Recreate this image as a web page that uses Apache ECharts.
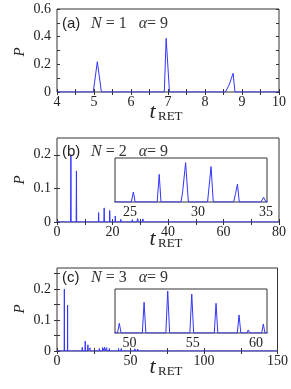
<!DOCTYPE html>
<html><head><meta charset="utf-8">
<script src="https://cdn.jsdelivr.net/npm/echarts@6/dist/echarts.min.js"></script>
<style>html,body{margin:0;padding:0;background:#fff}#c{width:291px;height:389px}</style>
</head><body><div id="c"></div>
<script>
// ---- Panel (a): N = 1 ----
const tA = [4, 4.98, 5.09, 5.2, 6.9, 6.95, 7.04, 8.55, 8.65, 8.76, 8.81, 10];
const pA = [0, 0, 0.219, 0, 0, 0.388, 0, 0, 0.05, 0.135, 0, 0];

// ---- Panel (b): N = 2 ----
const tB = [0, 4.9, 5.0, 5.1, 6.9, 7.0, 7.1, 14.9, 15.0, 15.1, 16.9, 17.0, 17.1, 18.9, 19.0, 19.1,
  20.9, 21.0, 21.1, 22.9, 23.0, 23.1, 25.1, 25.25, 25.38, 27.0, 27.15, 27.28,
  28.75, 28.87, 29.09, 29.29, 30.7, 30.96, 31.12, 32.62, 32.76, 32.9, 33.03, 34.62, 34.82, 35.0,
  36.9, 37.0, 37.1, 38.9, 39.0, 39.1, 40.9, 41.0, 41.1, 42.9, 43.0, 43.1, 44.9, 45.0, 45.1,
  48.9, 49.0, 49.1, 50.9, 51.0, 51.1, 54.9, 55.0, 55.1, 60.9, 61.0, 61.1, 80];
const pB = [0, 0, 0.2, 0, 0, 0.152, 0, 0, 0.028, 0, 0, 0.042, 0, 0, 0.034, 0,
  0, 0.018, 0, 0, 0.008, 0, 0, 0.00257, 0, 0, 0.0071, 0,
  0, 0.0026, 0.0101, 0, 0, 0.0091, 0, 0, 0.0022, 0.0046, 0, 0, 0.0012, 0,
  0, 0.004, 0, 0, 0.003, 0, 0, 0.005, 0, 0, 0.003, 0, 0, 0.002, 0,
  0, 0.0015, 0, 0, 0.002, 0, 0, 0.0015, 0, 0, 0.001, 0, 0];

// ---- Panel (c): N = 3 ----
const tC = [0, 4.9, 5.0, 5.1, 7.1, 7.2, 7.3, 17.1, 17.2, 17.3, 19.1, 19.2, 19.3, 20.9, 21.0, 21.1,
  22.4, 22.5, 22.6, 24.2, 24.3, 24.4, 26.5, 26.6, 26.7, 28.7, 28.8, 28.9, 30.9, 31.0, 31.1,
  32.3, 32.4, 32.5, 33.7, 33.8, 33.9, 35.5, 35.6, 35.7, 37.4, 37.5, 37.6, 39.9, 40.0, 40.1,
  41.8, 41.9, 42.0, 43.6, 43.7, 43.8, 45.4, 45.5, 45.6, 47.3, 47.4, 47.5,
  49.05, 49.19, 49.33, 50.26, 50.38, 50.5, 51.01, 51.15, 51.29, 52.87, 53.02, 53.17,
  54.77, 54.92, 55.07, 56.7, 56.84, 56.98, 58.52, 58.66, 58.8, 59.28, 59.39, 59.5, 60.45, 60.58, 60.71,
  62.4, 62.5, 62.6, 64.3, 64.4, 64.5, 66.2, 66.3, 66.4, 68.1, 68.2, 68.3, 71.9, 72.0, 72.1,
  75.9, 76.0, 76.1, 79.9, 80.0, 80.1, 87.9, 88.0, 88.1, 94.9, 95.0, 95.1, 104.9, 105.0, 105.1, 150];
const pC = [0, 0, 0.2, 0, 0, 0.148, 0, 0, 0.012, 0, 0, 0.032, 0, 0, 0.02, 0,
  0, 0.01, 0, 0, 0.006, 0, 0, 0.005, 0, 0, 0.008, 0, 0, 0.011, 0,
  0, 0.012, 0, 0, 0.011, 0, 0, 0.008, 0, 0, 0.005, 0, 0, 0.006, 0,
  0, 0.008, 0, 0, 0.008, 0, 0, 0.006, 0, 0, 0.004, 0,
  0, 0.00161, 0, 0, 0.00033, 0, 0, 0.0051, 0, 0, 0.00697, 0,
  0, 0.00647, 0, 0, 0.00493, 0, 0, 0.00299, 0, 0, 0.0005, 0, 0, 0.00149, 0,
  0, 0.003, 0, 0, 0.002, 0, 0, 0.002, 0, 0, 0.0015, 0, 0, 0.001, 0,
  0, 0.001, 0, 0, 0.001, 0, 0, 0.0008, 0, 0, 0.0006, 0, 0, 0.0005, 0, 0];

// ---- Tick values / labels ----
const xTicksA = [4, 4.5, 5, 5.5, 6, 6.5, 7, 7.5, 8, 8.5, 9, 9.5, 10];
const xLabelsA = [4, 5, 6, 7, 8, 9, 10];
const yTicksA = [0, 0.1, 0.2, 0.3, 0.4, 0.5, 0.6];
const yLabelsA = [0, 0.2, 0.4, 0.6];
const xTicksB = [0, 10, 20, 30, 40, 50, 60, 70, 80];
const xLabelsB = [0, 20, 40, 60, 80];
const yTicksB = [0, 0.1, 0.2];
const yLabelsB = [0, 0.1, 0.2];
const xTicksC = [0, 25, 50, 75, 100, 125, 150];
const xLabelsC = [0, 50, 100, 150];
const yTicksC = [0, 0.05, 0.1, 0.15, 0.2, 0.25];
const yLabelsC = [0, 0.1, 0.2];
const xTicksInB = [25, 27.5, 30, 32.5, 35];
const xLabelsInB = [25, 30, 35];
const xTicksInC = [50, 52.5, 55, 57.5, 60];
const xLabelsInC = [50, 55, 60];

const pair = (t, p) => t.map((v, i) => [v, p[i]]);
const FONT = '"Liberation Serif", "Times New Roman", serif';
const FRAME = '#333';
const BLUE = '#3434ff';

const labelStyle = (show, vals, margin) => show ? {
  show: true, customValues: vals, margin, fontFamily: FONT, fontSize: 14, color: '#222', fontWeight: 'normal'
} : { show: false };

function xAx(g, min, max, ticks, labels, pos) {
  return {
    type: 'value', gridIndex: g, min, max, position: pos,
    axisLine: { show: false }, splitLine: { show: false },
    axisTick: { show: true, inside: true, length: 3, customValues: ticks, lineStyle: { color: FRAME } },
    axisLabel: labelStyle(!!labels, labels, 3)
  };
}
function yAx(g, min, max, ticks, labels, pos) {
  return {
    type: 'value', gridIndex: g, min, max, position: pos,
    axisLine: { show: false }, splitLine: { show: false },
    axisTick: { show: !!ticks, inside: true, length: 3, customValues: ticks || [], lineStyle: { color: FRAME } },
    axisLabel: labelStyle(!!labels, labels, 6)
  };
}
function line(xi, yi, data, z) {
  return { type: 'line', xAxisIndex: xi, yAxisIndex: yi, data, showSymbol: false, symbol: 'none',
    lineStyle: { color: BLUE, width: 1 }, clip: true, z: z || 2, animation: false };
}

const gridBase = { show: true, borderColor: FRAME, borderWidth: 1, containLabel: false };
const option = {
  animation: false,
  textStyle: { fontFamily: FONT },
  grid: [
    Object.assign({ left: 57, top: 9, width: 222, height: 83, backgroundColor: 'transparent' }, gridBase),
    Object.assign({ left: 57, top: 138, width: 222, height: 84, backgroundColor: 'transparent' }, gridBase),
    Object.assign({ left: 57, top: 268, width: 222, height: 83, backgroundColor: 'transparent' }, gridBase),
    Object.assign({ left: 115, top: 158, width: 152, height: 44, backgroundColor: '#fff', z: 3 }, gridBase),
    Object.assign({ left: 115, top: 289, width: 152, height: 44, backgroundColor: '#fff', z: 3 }, gridBase)
  ],
  xAxis: [
    xAx(0, 4, 10, xTicksA, xLabelsA, 'bottom'),
    xAx(0, 4, 10, xTicksA, null, 'top'),
    xAx(1, 0, 80, xTicksB, xLabelsB, 'bottom'),
    xAx(1, 0, 80, xTicksB, null, 'top'),
    xAx(2, 0, 150, xTicksC, xLabelsC, 'bottom'),
    xAx(2, 0, 150, xTicksC, null, 'top'),
    xAx(3, 23.9, 35.07, xTicksInB, xLabelsInB, 'bottom'),
    xAx(3, 23.9, 35.07, xTicksInB, null, 'top'),
    xAx(4, 48.85, 60.87, xTicksInC, xLabelsInC, 'bottom'),
    xAx(4, 48.85, 60.87, xTicksInC, null, 'top')
  ],
  yAxis: [
    yAx(0, 0, 0.6, yTicksA, yLabelsA, 'left'),
    yAx(0, 0, 0.6, yTicksA, null, 'right'),
    yAx(1, 0, 0.25, yTicksB, yLabelsB, 'left'),
    yAx(1, 0, 0.25, yTicksB, null, 'right'),
    yAx(2, 0, 0.268, yTicksC, yLabelsC, 'left'),
    yAx(2, 0, 0.268, yTicksC, null, 'right'),
    yAx(3, 0, 0.0113, null, null, 'left'),
    yAx(4, 0, 0.0073, null, null, 'left')
  ],
  series: [
    line(0, 0, pair(tA, pA)),
    line(2, 2, pair(tB, pB)),
    line(4, 4, pair(tC, pC)),
    line(6, 6, pair(tB, pB), 4),
    line(8, 7, pair(tC, pC), 4)
  ],
  graphic: []
};

// panel annotations
const panels = [
  { lab: '(a)', n: '1', cy: 24, ty: 112, py: 52 },
  { lab: '(b)', n: '2', cy: 152, ty: 239, py: 180 },
  { lab: '(c)', n: '3', cy: 278, ty: 367, py: 309 }
];
panels.forEach(p => {
  option.graphic.push(
    { type: 'text', x: 62, y: p.cy, z: 10, style: { text: p.lab, font: '15px "Liberation Sans", Arial, sans-serif', fill: '#222', textAlign: 'left', textVerticalAlign: 'middle' } },
    { type: 'text', x: 91, y: p.cy, z: 10, style: { text: '{i|N} = ' + p.n + '   {i|α}= 9', font: '16px "Liberation Serif", serif', fill: '#333', textAlign: 'left', textVerticalAlign: 'middle',
      rich: { i: { fontStyle: 'italic', fontFamily: FONT, fontSize: 16, fill: '#333' } } } },
    { type: 'text', x: 152.5, y: p.ty, z: 10, style: { text: 't', font: 'italic 22px "Liberation Serif", serif', fill: '#222', textAlign: 'center', textVerticalAlign: 'middle' } },
    { type: 'text', x: 158, y: p.ty + 5, z: 10, style: { text: 'RET', font: '13px "Liberation Serif", serif', fill: '#222', textAlign: 'left', textVerticalAlign: 'middle' } },
    { type: 'text', x: 20, y: p.py, z: 10, rotation: Math.PI / 2, style: { text: 'P', font: 'italic 15px "Liberation Serif", serif', fill: '#222', textAlign: 'center', textVerticalAlign: 'middle' } }
  );
});

const chart = echarts.init(document.getElementById('c'), null, { renderer: 'canvas' });
chart.setOption(option);
</script>
</body></html>
